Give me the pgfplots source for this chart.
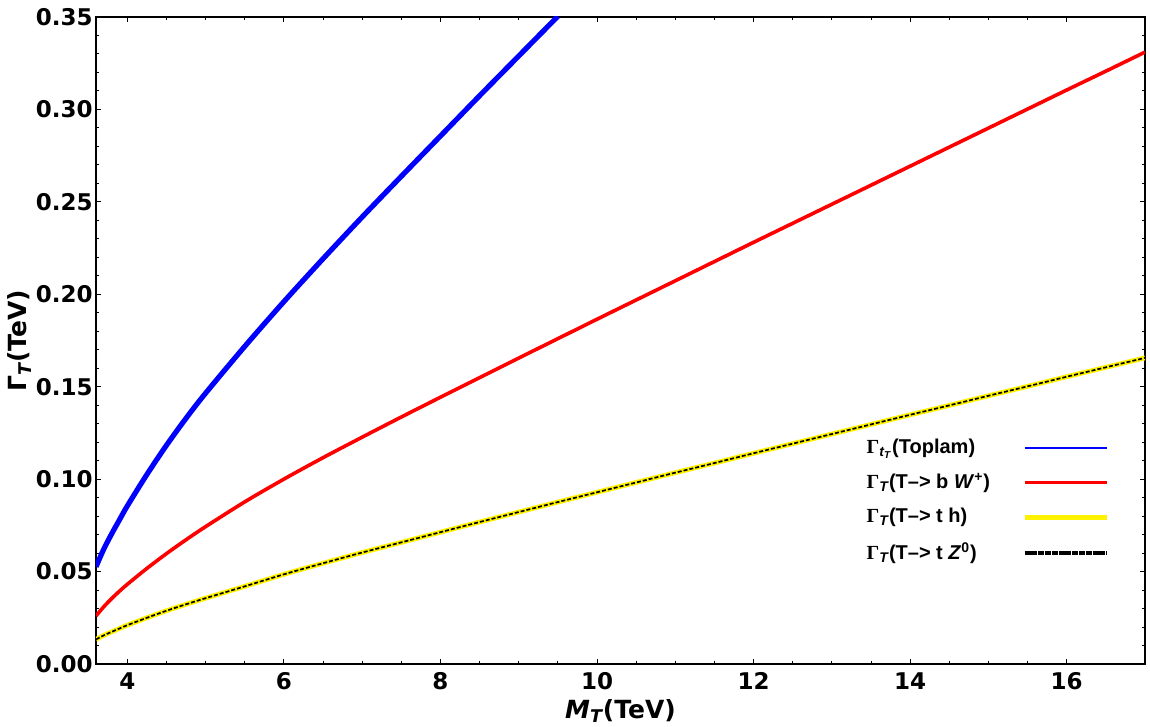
\documentclass[border=0pt]{standalone}
\usepackage{fontspec}
\setmainfont{DejaVu Sans}
\newfontfamily\legfont{Liberation Sans}
\newfontfamily\gamfont{Liberation Serif}
\usepackage{pgfplots}
\usepackage{pgfplotstable}
\pgfplotsset{compat=1.18}

\pgfplotstableread{
x y
3.6 0.0526
3.7 0.0622
3.8 0.0704
3.9 0.0780
4.0 0.0855
4.25 0.1025
4.5 0.1183
4.75 0.1329
5.0 0.1465
5.5 0.1718
6.0 0.1960
6.5 0.2192
7.0 0.2418
7.5 0.2638
8.0 0.2856
8.5 0.3074
9.0 0.3289
9.5 0.3504
}\bluetab

\pgfplotstableread{
x y
3.6 0.0260
3.7 0.0310
3.8 0.0354
3.9 0.0394
4.0 0.0431
4.25 0.0517
4.5 0.0597
4.75 0.0672
5.0 0.0743
5.5 0.0877
6.0 0.1000
6.5 0.1116
7.0 0.1227
7.5 0.1336
8.0 0.1443
8.5 0.1549
9.0 0.1655
9.5 0.1760
10.0 0.1865
10.5 0.1969
11.0 0.2073
11.5 0.2177
12.0 0.2281
12.5 0.2384
13.0 0.2487
13.5 0.2590
14.0 0.2693
14.5 0.2796
15.0 0.2899
15.5 0.3002
16.0 0.3105
16.5 0.3207
17.0 0.3310
}\redtab

\pgfplotstableread{
x y
3.6 0.0133
3.7 0.0155
3.8 0.0174
3.9 0.0192
4.0 0.0210
4.25 0.0250
4.5 0.0288
4.75 0.0323
5.0 0.0356
5.5 0.0420
6.0 0.0485
6.5 0.0545
7.0 0.0603
7.5 0.0658
8.0 0.0713
8.5 0.0768
9.0 0.0822
9.5 0.0876
10.0 0.0929
10.5 0.0982
11.0 0.1035
11.5 0.1087
12.0 0.1140
12.5 0.1192
13.0 0.1244
13.5 0.1296
14.0 0.1348
14.5 0.1399
15.0 0.1451
15.5 0.1502
16.0 0.1554
16.5 0.1605
17.0 0.1656
}\yellowtab

\begin{document}
\begin{tikzpicture}
\begin{axis}[
  scale only axis,
  width=524.5pt, height=323.5pt,
  xmin=3.6, xmax=17, ymin=0, ymax=0.35,
  xtick={4,6,8,10,12,14,16},
  ytick={0,0.05,0.10,0.15,0.20,0.25,0.30,0.35},
  minor x tick num=3,
  minor y tick num=4,
  tick align=inside,
  major tick length=2.6pt,
  minor tick length=1.5pt,
  every tick/.style={black, line width=0.5pt},
  axis line style={line width=0.6pt},
  /pgf/number format/assume math mode=true,
  ticklabel style={font=\fontsize{11.5}{13}\selectfont\bfseries, inner sep=1.5pt},
  xticklabel style={yshift=-2.5pt},
  yticklabel style={/pgf/number format/.cd, fixed, fixed zerofill, precision=2},
  xlabel={\textit{M}\textsubscript{\itshape T}(TeV)},
  ylabel={Γ\textsubscript{\itshape T}(TeV)},
  label style={font=\fontsize{12.5}{14}\selectfont\bfseries},
  xlabel style={at={(axis description cs:0.5,-0.0835)}, anchor=base},
  ylabel style={at={(axis description cs:-0.0658,0.5)}, anchor=base},
  legend plot pos=right,
  legend cell align=left,
  legend image code/.code={\draw[#1] (0pt,0pt) -- (41pt,0pt);},
  legend style={draw=none, fill=none, inner sep=0pt,
    at={(axis description cs:0.966,0.252)}, anchor=east,
    font=\legfont\bfseries\fontsize{10}{12}\selectfont,
    row sep=4.3pt,
    /tikz/every odd column/.append style={column sep=14pt}},
]
\addlegendimage{blue, line width=1.1pt}
\addlegendentry{{\gamfont Γ}\textsubscript{\itshape t\textsubscript{T}}(Toplam)}
\addplot[blue, line width=2.6pt, smooth, forget plot] table[x=x,y=y] {\bluetab};
\addplot[red, line width=1.8pt, smooth] table[x=x,y=y] {\redtab};
\addlegendentry{{\gamfont Γ}\textsubscript{\itshape T}(T–> b \textit{W}\textsuperscript{+})}
\addplot[yellow, line width=2.4pt, smooth] table[x=x,y=y] {\yellowtab};
\addlegendentry{{\gamfont Γ}\textsubscript{\itshape T}(T–> t h)}
\addplot[black, line width=0.85pt, dash pattern=on 2pt off 1pt, smooth, forget plot] table[x=x,y=y] {\yellowtab};
\addlegendimage{black, line width=2pt, dash pattern=on 3pt off 0.4pt}
\addlegendentry{{\gamfont Γ}\textsubscript{\itshape T}(T–> t \textit{Z}\textsuperscript{0})}
\end{axis}
\pgfresetboundingbox
\path ([shift={(-48pt,-31.5pt)}]current axis.south west) rectangle ([shift={(2.5pt,8.5pt)}]current axis.north east);
\end{tikzpicture}
\end{document}
